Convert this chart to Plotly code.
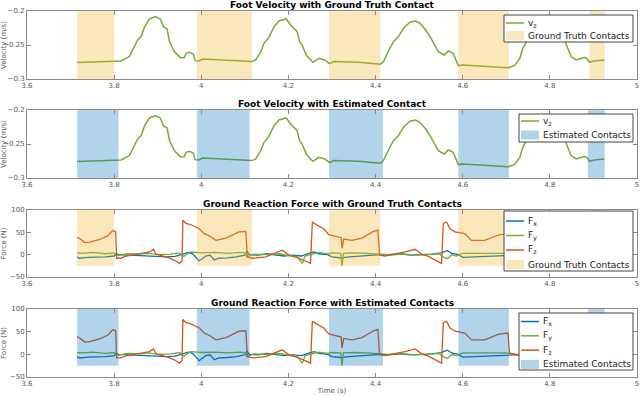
import plotly.graph_objects as go
from plotly.subplots import make_subplots

# foot velocity v_z (m/s)
vel_t = [3.715, 3.760, 3.801, 3.816, 3.835, 3.843, 3.854, 3.862, 3.870, 3.881, 3.895, 3.906,
         3.913, 3.9215, 3.927, 3.938, 3.952, 3.961, 3.965, 3.9726, 3.9817, 3.986, 3.994, 4.003,
         4.0565, 4.116, 4.125, 4.1365, 4.144, 4.155, 4.167, 4.178, 4.195, 4.205, 4.220, 4.2256,
         4.2316, 4.2407, 4.256, 4.2697, 4.2834, 4.294, 4.304, 4.3154, 4.361, 4.411, 4.418, 4.4297,
         4.441, 4.4526, 4.464, 4.479, 4.492, 4.502, 4.515, 4.527, 4.5365, 4.544, 4.5577, 4.5669,
         4.578, 4.590, 4.601, 4.651, 4.704, 4.719, 4.731, 4.738, 4.746, 4.760, 4.775, 4.790,
         4.805, 4.820, 4.8336, 4.841, 4.8487, 4.860, 4.870, 4.879, 4.885, 4.891, 4.902, 4.925]
vel_z = [-0.2759, -0.2750, -0.2740, -0.2735, -0.2670, -0.2573, -0.2426, -0.2377, -0.2230, -0.2117,
         -0.2083, -0.2117, -0.2230, -0.2264, -0.2450, -0.2598, -0.2686, -0.2686, -0.2622, -0.2607,
         -0.2632, -0.2730, -0.2735, -0.2706, -0.2720, -0.2744, -0.2720, -0.2598, -0.2475, -0.2392,
         -0.2230, -0.2147, -0.2117, -0.2206, -0.2303, -0.2450, -0.2500, -0.2647, -0.2754, -0.2696,
         -0.2720, -0.2774, -0.2744, -0.2744, -0.2754, -0.2784, -0.2744, -0.2588, -0.2450, -0.2377,
         -0.2254, -0.2166, -0.2147, -0.2180, -0.2280, -0.2400, -0.2500, -0.2598, -0.2647, -0.2588,
         -0.2622, -0.2803, -0.2794, -0.2818, -0.2833, -0.2803, -0.2696, -0.2549, -0.2450, -0.2280,
         -0.2130, -0.2100, -0.2150, -0.2280, -0.2426, -0.2549, -0.2670, -0.2720, -0.2696, -0.2686,
         -0.2696, -0.2754, -0.2735, -0.2720]

# ground reaction forces (N)
fx_t = [3.715, 3.720, 3.740, 3.760, 3.780, 3.800, 3.805, 3.810, 3.830, 3.850, 3.870, 3.890, 3.920,
        3.940, 3.960, 3.970, 3.980, 3.990, 3.995, 4.010, 4.020, 4.030, 4.040, 4.060, 4.080, 4.100,
        4.105, 4.110, 4.130, 4.150, 4.170, 4.190, 4.210, 4.230, 4.250, 4.260, 4.270, 4.290, 4.300,
        4.320, 4.340, 4.360, 4.390, 4.410, 4.430, 4.460, 4.480, 4.500, 4.530, 4.550, 4.565, 4.575,
        4.590, 4.600, 4.620, 4.650, 4.680, 4.700, 4.750, 4.850, 4.890, 4.926]
fx = [-5, -8, -6, -6, -5, -3, 2, 0, -1, -2, -3, -4, -5, -4, 3, 5, 2, -8, -14, -3, -1, -12, -8, -7,
      -5, -1, 8, 0, -1, 2, 0, -3, -1, -3, 4, 6, 2, 0, -5, -7, -5, -4, -2, 0, -1, 1, -1, 0, 1, 4, 9,
      3, 0, -6, -5, -4, -2, -1, 0, -2, -3, -4]
fy_t = [3.715, 3.730, 3.750, 3.780, 3.800, 3.810, 3.830, 3.860, 3.880, 3.900, 3.930, 3.950, 3.960,
        3.975, 3.990, 4.000, 4.030, 4.060, 4.090, 4.100, 4.105, 4.120, 4.150, 4.180, 4.200, 4.220,
        4.232, 4.238, 4.250, 4.270, 4.290, 4.300, 4.320, 4.323, 4.326, 4.350, 4.380, 4.410, 4.430,
        4.460, 4.490, 4.520, 4.545, 4.555, 4.565, 4.575, 4.585, 4.600, 4.630, 4.660, 4.700, 4.720,
        4.800, 4.926]
fy = [4, 3, 5, 2, 4, -2, 2, 1, 3, 0, 1, 4, -4, 6, 5, 4, 5, 3, 5, 4, -5, 1, 0, 2, -2, -4, -20, -3,
      0, 5, 2, 4, 3, -25, 3, 4, 3, 2, 0, 2, -1, 0, 2, -5, -9, 0, -3, 3, 3, 2, 3, 0, 0, 2]
fz_t = [3.715, 3.721, 3.7326, 3.744, 3.7669, 3.785, 3.797, 3.8034, 3.8057, 3.8165, 3.824, 3.839,
        3.851, 3.8658, 3.8811, 3.8903, 3.8965, 3.9193, 3.9383, 3.9497, 3.9559, 3.9577, 3.965,
        3.9765, 3.9954, 4.0069, 4.0183, 4.0336, 4.0565, 4.0869, 4.1022, 4.1058, 4.1173, 4.1479,
        4.1669, 4.1858, 4.2011, 4.224, 4.2507, 4.2549, 4.2658, 4.2697, 4.2811, 4.2926, 4.3115,
        4.3211, 4.323, 4.3269, 4.3458, 4.3687, 4.3954, 4.4053, 4.4091, 4.4222, 4.4411, 4.4679,
        4.4907, 4.5058, 4.5211, 4.544, 4.5515, 4.5554, 4.563, 4.5707, 4.5822, 4.605, 4.6201,
        4.6507, 4.6811, 4.704, 4.7074, 4.7269, 4.780, 4.850, 4.885, 4.888, 4.905, 4.926]
fz = [39, 36, 27, 28, 34, 42, 54, 52, -8, -8, -4, -1, 1, 3, 6, 12, 1, -5, -12, -19.5, -14, 77, 70,
      67, 58, 47, 42, 32, 37, 51, 52, -5, -8, -5, 2, 10, -1, -8, -19.5, 73, 66, 64, 58, 45, 40, 38,
      14, 35, 32, 37, 52, 55, -1, -3, 1, 6, 12, 1, -4, -16, -19.5, 70, 73, 58, 51, 47, 32, 32, 44,
      47, 3, -2, 3, -10, -18, 68, 55, 40]

# contact windows (s)
truth_start = [3.715, 3.990, 4.293, 4.590, 4.891]
truth_end = [3.800, 4.116, 4.411, 4.706, 4.926]
est_start = [3.715, 3.990, 4.293, 4.590, 4.887]
est_end = [3.810, 4.111, 4.417, 4.706, 4.926]

x_ticks = [3.6, 3.8, 4, 4.2, 4.4, 4.6, 4.8, 5]

BLUE = "#0072BD"
GREEN = "#77AC30"
ORANGE = "#D95319"
TRUTH_FILL = "rgba(237,177,32,0.3)"
EST_FILL = "rgba(0,114,189,0.3)"
FONT = "DejaVu Sans"
AXIS_GRAY = "#8a8a8a"
TEXT_GRAY = "#555555"

# plot area in pixels (left, right, top, bottom)
PL, PR, PT, PB = 27, 637, 11, 377


def paper_x(px):
	return (px - PL) / (PR - PL)


def paper_y(py):
	return (PB - py) / (PB - PT)


def contact_patch(starts, ends, lo, hi):
	xs, ys = [], []
	for a, b in zip(starts, ends):
		xs += [a, b, b, a, a, None]
		ys += [lo, lo, hi, hi, lo, None]
	return xs, ys


def draw_legend(fig, left, top, right, bottom, first, pitch, entries):
	# MATLAB style legend box drawn by hand (plotly legends can't be this compact)
	fig.add_shape(type = "rect", xref = "paper", yref = "paper",
		x0 = paper_x(left), x1 = paper_x(right), y0 = paper_y(top), y1 = paper_y(bottom),
		fillcolor = "white", line = dict(color = "#444444", width = 1), layer = "above")
	s0, s1 = left + 2, left + 20
	for k, (kind, color, label) in enumerate(entries):
		yc = top + first + k * pitch
		if kind == "line":
			fig.add_shape(type = "line", xref = "paper", yref = "paper",
				x0 = paper_x(s0), x1 = paper_x(s1), y0 = paper_y(yc), y1 = paper_y(yc),
				line = dict(color = color, width = 1.5), layer = "above")
		else:
			fig.add_shape(type = "rect", xref = "paper", yref = "paper",
				x0 = paper_x(s0), x1 = paper_x(s1), y0 = paper_y(yc - 4.5), y1 = paper_y(yc + 4.5),
				fillcolor = color, line = dict(width = 0), layer = "above")
		fig.add_annotation(text = label, xref = "paper", yref = "paper",
			x = paper_x(s1 + 2), y = paper_y(yc), xanchor = "left", yanchor = "middle",
			showarrow = False, font = dict(family = FONT, size = 9, color = "#222222"))


fig = make_subplots(rows = 4, cols = 1)

panels = [
	("Foot Velocity with Ground Truth Contact", "vel", truth_start, truth_end, TRUTH_FILL, "Ground Truth Contacts"),
	("Foot Velocity with Estimated Contact", "vel", est_start, est_end, EST_FILL, "Estimated Contacts"),
	("Ground Reaction Force with Ground Truth Contacts", "force", truth_start, truth_end, TRUTH_FILL, "Ground Truth Contacts"),
	("Ground Reaction Force with Estimated Contacts", "force", est_start, est_end, EST_FILL, "Estimated Contacts"),
]

# panel top/bottom in pixels
panel_px = [(11, 79), (110, 178), (210, 277), (309, 377)]
# legend boxes: left, top, right, bottom, first entry offset, entry pitch
legend_px = [(504, 15, 633, 42, 8, 12.5), (519, 114, 633, 142, 7, 14),
	(504, 211, 633, 271, 10, 14.5), (519, 313, 633, 370, 8.5, 14.3)]

for i, (title, kind, starts, ends, fill, fill_name) in enumerate(panels):
	row = i + 1
	if kind == "vel":
		fig.add_trace(go.Scatter(x = vel_t, y = vel_z, mode = "lines",
			line = dict(color = GREEN, width = 1.5)), row = row, col = 1)
		lo, hi = -0.3, -0.2
		entries = [("line", GREEN, "v<sub>z</sub>")]
	else:
		fig.add_trace(go.Scatter(x = fx_t, y = fx, mode = "lines",
			line = dict(color = BLUE, width = 1.3)), row = row, col = 1)
		fig.add_trace(go.Scatter(x = fy_t, y = fy, mode = "lines",
			line = dict(color = GREEN, width = 1.3)), row = row, col = 1)
		fig.add_trace(go.Scatter(x = fz_t, y = fz, mode = "lines",
			line = dict(color = ORANGE, width = 1.3)), row = row, col = 1)
		lo, hi = -25, 100
		entries = [("line", BLUE, "F<sub>x</sub>"), ("line", GREEN, "F<sub>y</sub>"),
			("line", ORANGE, "F<sub>z</sub>")]
	entries.append(("patch", fill, fill_name))

	px_, py_ = contact_patch(starts, ends, lo, hi)
	fig.add_trace(go.Scatter(x = px_, y = py_, mode = "none", fill = "toself", fillcolor = fill,
		hoverinfo = "skip"), row = row, col = 1)

	fig.add_annotation(text = "<b>" + title + "</b>", x = 0.5, xref = "paper",
		y = paper_y(panel_px[i][0]), yref = "paper", yanchor = "bottom", yshift = -1, showarrow = False,
		font = dict(family = FONT, size = 9, color = "black"))

	draw_legend(fig, *legend_px[i], entries)

axis_style = dict(showline = True, linecolor = AXIS_GRAY, linewidth = 1, mirror = "allticks",
	ticks = "inside", ticklen = 4, tickcolor = AXIS_GRAY, showgrid = False, zeroline = False,
	automargin = False, tickfont = dict(family = FONT, size = 7, color = TEXT_GRAY))
title_font = dict(family = FONT, size = 7, color = TEXT_GRAY)

for i in range(4):
	row = i + 1
	top, bottom = panel_px[i]
	fig.update_xaxes(range = [3.6, 5], tickvals = x_ticks, row = row, col = 1, **axis_style)
	fig.update_yaxes(domain = [paper_y(bottom), paper_y(top)], row = row, col = 1, **axis_style)
	if i < 2:
		fig.update_yaxes(range = [-0.3, -0.2], tickvals = [-0.3, -0.25, -0.2],
			title = dict(text = "Velocity (m/s)", font = title_font, standoff = 2), row = row, col = 1)
	else:
		fig.update_yaxes(range = [-50, 100], tickvals = [-50, 0, 50, 100],
			title = dict(text = "Force (N)", font = title_font, standoff = 2), row = row, col = 1)

fig.update_xaxes(title = dict(text = "Time (s)", font = title_font, standoff = 0), row = 4, col = 1)

fig.update_layout(width = 640, height = 396, margin = dict(l = PL, r = 640 - PR, t = PT, b = 396 - PB),
	plot_bgcolor = "white", paper_bgcolor = "white", showlegend = False, font = dict(family = FONT))

# the page's default 8px body margin would push the 640px figure off the window
fig.write_html("out.html", config = {"displayModeBar": False},
	post_script = "document.body.style.margin = '0';")
